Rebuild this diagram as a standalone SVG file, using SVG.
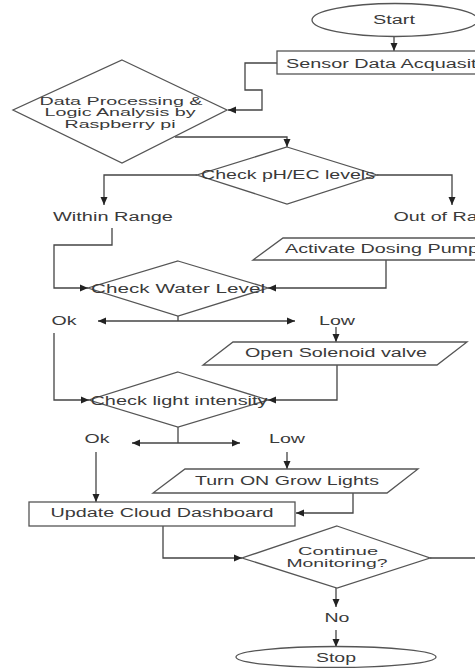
<svg xmlns="http://www.w3.org/2000/svg" width="475" height="668" viewBox="0 0 475 668">
<style>
.s{fill:#fff;stroke:#555;stroke-width:1.3}
.c{fill:none;stroke:#444;stroke-width:1.3}
text{font-family:"Liberation Sans",Arial,sans-serif;font-size:12px;fill:#3a3a3a}
.m{text-anchor:middle}
.t{font-size:10.5px}
</style>
<defs>
<marker id="a" markerUnits="userSpaceOnUse" markerWidth="9" markerHeight="8" refX="8" refY="4" orient="auto">
<path d="M0,0.5 L8,4 L0,7.5 Z" fill="#222"/>
</marker>
</defs>
<rect width="475" height="668" fill="#fff"/>
<g id="connectors">
<path class="c" d="M394,36 V51" marker-end="url(#a)"/>
<path class="c" d="M277,63 H245 V90 H262 V110 H228" marker-end="url(#a)"/>
<path class="c" d="M175,137 H287 V147" marker-end="url(#a)"/>
<path class="c" d="M197,175 H104 V205" marker-end="url(#a)"/>
<path class="c" d="M377,175 H452 V205" marker-end="url(#a)"/>
<path class="c" d="M112,228 V245 H54 V288 H88" marker-end="url(#a)"/>
<path class="c" d="M386,260 V288 H268" marker-end="url(#a)"/>
<path class="c" d="M178,316 V321"/>
<path class="c" d="M178,321 H98" marker-end="url(#a)"/>
<path class="c" d="M178,321 H295" marker-end="url(#a)"/>
<path class="c" d="M336,327 V342" marker-end="url(#a)"/>
<path class="c" d="M54,333 V400 H89" marker-end="url(#a)"/>
<path class="c" d="M337,365 V400 H268" marker-end="url(#a)"/>
<path class="c" d="M178,427 V443"/>
<path class="c" d="M178,443 H132" marker-end="url(#a)"/>
<path class="c" d="M178,443 H240" marker-end="url(#a)"/>
<path class="c" d="M287,452 V469" marker-end="url(#a)"/>
<path class="c" d="M96,452 V502" marker-end="url(#a)"/>
<path class="c" d="M353,493 V513 H296" marker-end="url(#a)"/>
<path class="c" d="M163,526 V558 H242" marker-end="url(#a)"/>
<path class="c" d="M430,558 H475"/>
<path class="c" d="M336,588 V607" marker-end="url(#a)"/>
<path class="c" d="M336,630 V647" marker-end="url(#a)"/>
</g>
<g id="start">
<ellipse class="s" cx="395" cy="20" rx="83" ry="16.5"/>
<text class="m" x="394" y="24" textLength="42" lengthAdjust="spacingAndGlyphs">Start</text>
</g>
<g id="sensor">
<rect class="s" x="277" y="51" width="230" height="23"/>
<text x="286" y="68" textLength="217" lengthAdjust="spacingAndGlyphs">Sensor Data Acquasition</text>
</g>
<g id="processing">
<polygon class="s" points="122,60 227,110 122,163 13,110"/>
<text class="m t" x="121" y="104.5" textLength="163" lengthAdjust="spacingAndGlyphs">Data Processing &amp;</text>
<text class="m t" x="120" y="116" textLength="151" lengthAdjust="spacingAndGlyphs">Logic Analysis by</text>
<text class="m t" x="120" y="127.5" textLength="111" lengthAdjust="spacingAndGlyphs">Raspberry pi</text>
</g>
<g id="checkph">
<polygon class="s" points="287,147 377,175 287,204 197,175"/>
<text class="m" x="288" y="179" textLength="174" lengthAdjust="spacingAndGlyphs">Check pH/EC levels</text>
</g>
<g id="within">
<text class="m" x="113" y="221" textLength="120" lengthAdjust="spacingAndGlyphs">Within Range</text>
</g>
<g id="outofrange">
<text class="m" x="452" y="221" textLength="117" lengthAdjust="spacingAndGlyphs">Out of Range</text>
</g>
<g id="dosing">
<polygon class="s" points="283,238 505,238 475,260 253,260"/>
<text x="285" y="253" textLength="194" lengthAdjust="spacingAndGlyphs">Activate Dosing Pump</text>
</g>
<g id="checkwater">
<polygon class="s" points="178,261 268,288 178,316 88,288"/>
<text class="m" x="178" y="293" textLength="174" lengthAdjust="spacingAndGlyphs">Check Water Level</text>
</g>
<g id="ok1">
<text class="m" x="64" y="325" textLength="25" lengthAdjust="spacingAndGlyphs">Ok</text>
</g>
<g id="low1">
<text class="m" x="337" y="325" textLength="36" lengthAdjust="spacingAndGlyphs">Low</text>
</g>
<g id="solenoid">
<polygon class="s" points="233,342 467,342 437,365 203,365"/>
<text class="m" x="336" y="357" textLength="182" lengthAdjust="spacingAndGlyphs">Open Solenoid valve</text>
</g>
<g id="checklight">
<polygon class="s" points="178,372 268,400 178,427 89,400"/>
<text class="m" x="179" y="405" textLength="177" lengthAdjust="spacingAndGlyphs">Check light intensity</text>
</g>
<g id="ok2">
<text class="m" x="97" y="443" textLength="25" lengthAdjust="spacingAndGlyphs">Ok</text>
</g>
<g id="low2">
<text class="m" x="287" y="443" textLength="36" lengthAdjust="spacingAndGlyphs">Low</text>
</g>
<g id="growlights">
<polygon class="s" points="185,469 418,469 387,493 153,493"/>
<text class="m" x="287" y="485" textLength="184" lengthAdjust="spacingAndGlyphs">Turn ON Grow Lights</text>
</g>
<g id="dashboard">
<rect class="s" x="29" y="502" width="266" height="24"/>
<text class="m" x="162" y="517" textLength="223" lengthAdjust="spacingAndGlyphs">Update Cloud Dashboard</text>
</g>
<g id="continue">
<polygon class="s" points="337,526 430,558 337,588 242,558"/>
<text class="m t" x="338" y="554.5" textLength="80" lengthAdjust="spacingAndGlyphs">Continue</text>
<text class="m t" x="337" y="567" textLength="101" lengthAdjust="spacingAndGlyphs">Monitoring?</text>
</g>
<g id="no">
<text class="m" x="337" y="622" textLength="25" lengthAdjust="spacingAndGlyphs">No</text>
</g>
<g id="stop">
<ellipse class="s" cx="336" cy="657" rx="100" ry="10.5"/>
<text class="m" x="336" y="662" textLength="40" lengthAdjust="spacingAndGlyphs">Stop</text>
</g>
</svg>
